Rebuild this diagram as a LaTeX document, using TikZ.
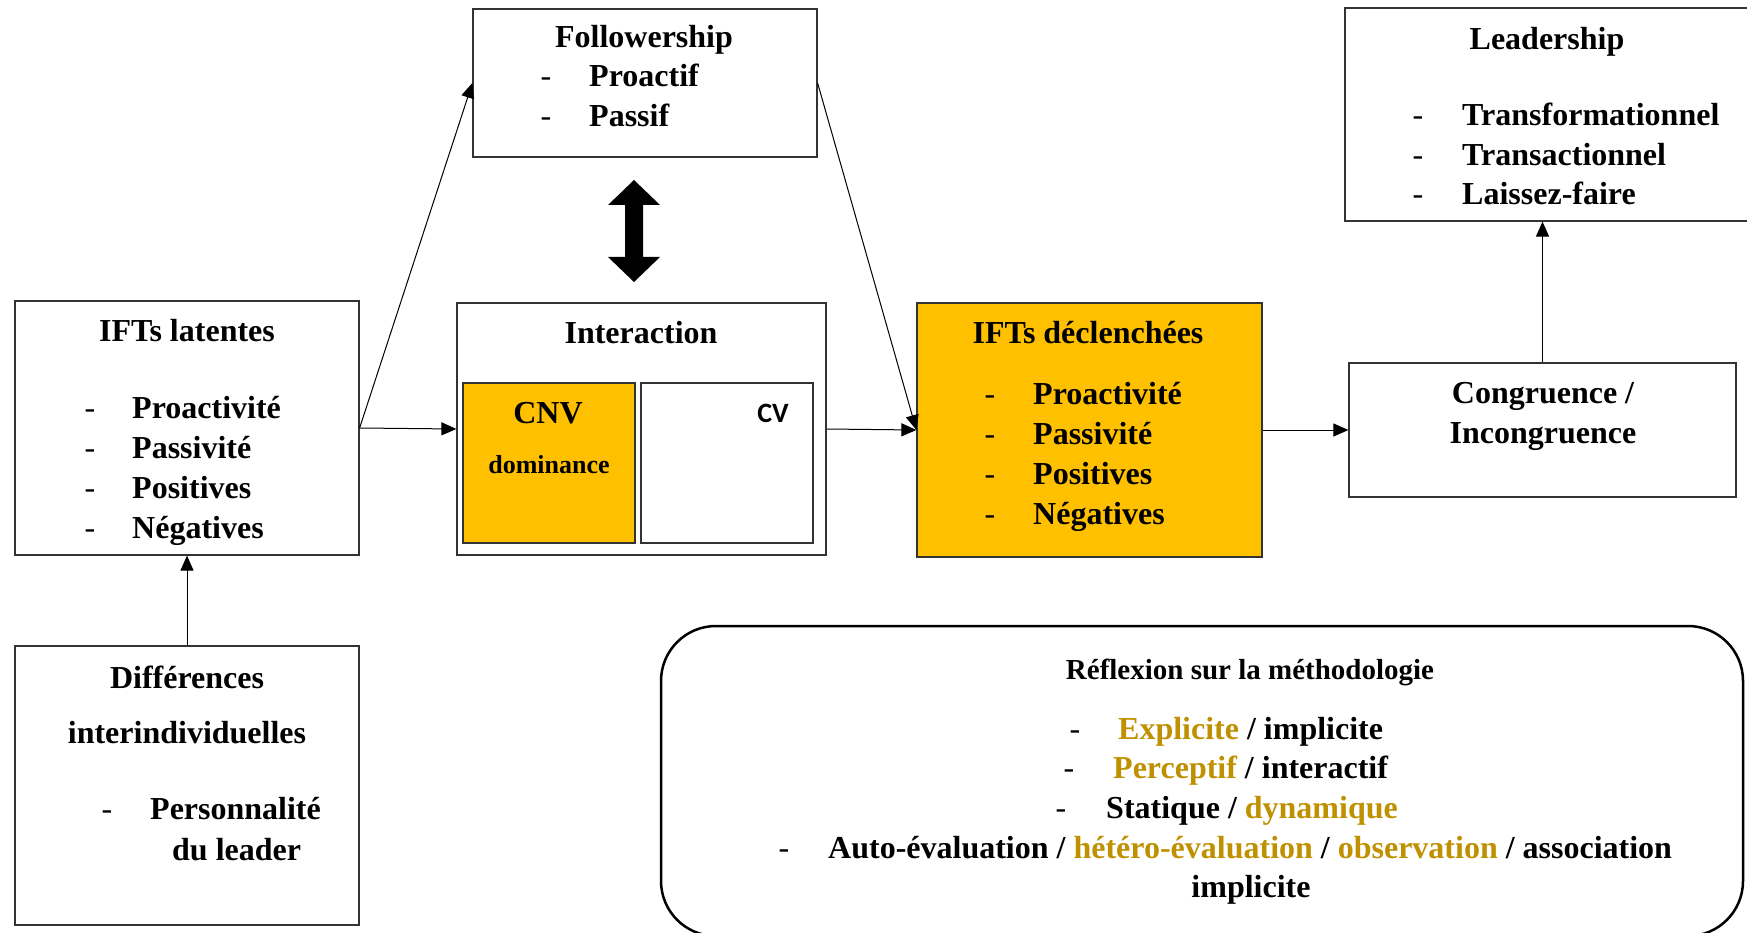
\documentclass[tikz,border=0pt]{standalone}
\usepackage{fontspec}
\setmainfont{Liberation Serif}
\newfontfamily\cvfont{Carlito}
\usetikzlibrary{arrows.meta}
\definecolor{boxgold}{HTML}{FFC000}
\definecolor{txtgold}{HTML}{BF9000}
\tikzset{
  box/.style={draw=black!80, line width=1.2pt, rectangle, inner sep=0pt},
  txt/.style={font=\fontsize{32}{36}\selectfont\bfseries, inner sep=0pt},
  dashmark/.style={font=\fontsize{32}{36}\selectfont, inner sep=0pt, anchor=base},
  conn/.style={line width=1pt, -{Triangle[length=15pt,width=13pt]}},
}
\begin{document}
\begin{tikzpicture}[x=1pt,y=-1pt]
\useasboundingbox (0,0) rectangle (1747,933);
% boxes
\node[box, minimum width=344pt, minimum height=148pt] (foll) at (645,83) {};
\node[box, minimum width=344pt, minimum height=254pt] (lat) at (187,428) {};
\node[box, minimum width=369pt, minimum height=252pt] (inter) at (641.5,429) {};
\node[box, fill=boxgold, minimum width=172pt, minimum height=160pt] (cnv) at (549,463) {};
\node[box, minimum width=172pt, minimum height=160pt] (cv) at (727,463) {};
\node[box, fill=boxgold, minimum width=345pt, minimum height=254pt] (decl) at (1089.5,430) {};
\node[box, minimum width=387pt, minimum height=134pt] (cong) at (1542.5,430) {};
\node[box, minimum width=407pt, minimum height=213pt] (lead) at (1548.5,114.5) {};
\node[box, minimum width=344pt, minimum height=279pt] (diff) at (187,785.5) {};
\node[box, draw=black, line width=2.5pt, rounded corners=55pt, minimum width=1082pt, minimum height=310pt] (meth) at (1202,781) {};
% connectors
\draw[conn] (lat.east) -- (inter.west);
\draw[conn] (lat.east) -- (foll.west);
\draw[conn] (inter.east) -- (decl.west);
\draw[conn] (foll.east) -- (decl.west);
\draw[conn] (decl.east) -- (cong.west);
\draw[conn] (cong.north) -- (cong.north |- lead.south);
\draw[conn] (diff.north) -- (lat.south);
% double block arrow
\fill (634,180) -- (660,205) -- (643,205) -- (643,257) -- (660,257) -- (634,282) -- (608,257) -- (625,257) -- (625,205) -- (608,205) -- cycle;
% Followership
\node[txt, anchor=base] (follT) at (644,48) {Followership};
\node[dashmark] (follD1) at (546,87) {-};
\node[txt, anchor=base west] (follI1) at (589,87) {Proactif};
\node[dashmark] (follD2) at (546,127) {-};
\node[txt, anchor=base west] (follI2) at (589,127) {Passif};
% IFTs latentes
\node[txt, anchor=base] (latT) at (187,341) {IFTs latentes};
\node[dashmark] (latD1) at (90,418) {-};
\node[txt, anchor=base west] (latI1) at (132,418) {Proactivité};
\node[dashmark] (latD2) at (90,458) {-};
\node[txt, anchor=base west] (latI2) at (132,458) {Passivité};
\node[dashmark] (latD3) at (90,498) {-};
\node[txt, anchor=base west] (latI3) at (132,498) {Positives};
\node[dashmark] (latD4) at (90,538) {-};
\node[txt, anchor=base west] (latI4) at (132,538) {Négatives};
% Interaction
\node[txt, anchor=base] (interT) at (641,343) {Interaction};
\node[txt, font=\fontsize{32}{36}\selectfont\bfseries, anchor=base] (cnvT) at (548,423) {CNV};
\node[txt, font=\fontsize{26}{30}\selectfont\bfseries, anchor=base] (cnvS) at (549,473) {dominance};
\node[txt, font=\fontsize{28}{30}\selectfont\cvfont\bfseries, anchor=base] (cvT) at (773,422) {CV};
% IFTs declenchees
\node[txt, anchor=base] (declT) at (1088,343) {IFTs déclenchées};
\node[dashmark] (declD1) at (990,404) {-};
\node[txt, anchor=base west] (declI1) at (1033,404) {Proactivité};
\node[dashmark] (declD2) at (990,444) {-};
\node[txt, anchor=base west] (declI2) at (1033,444) {Passivité};
\node[dashmark] (declD3) at (990,484) {-};
\node[txt, anchor=base west] (declI3) at (1033,484) {Positives};
\node[dashmark] (declD4) at (990,524) {-};
\node[txt, anchor=base west] (declI4) at (1033,524) {Négatives};
% Congruence
\node[txt, anchor=base] (congT1) at (1543,403) {Congruence /};
\node[txt, anchor=base] (congT2) at (1543,443) {Incongruence};
% Leadership
\node[txt, anchor=base] (leadT) at (1547,50) {Leadership};
\node[dashmark] (leadD1) at (1418,126) {-};
\node[txt, anchor=base west] (leadI1) at (1462,126) {Transformationnel};
\node[dashmark] (leadD2) at (1418,166) {-};
\node[txt, anchor=base west] (leadI2) at (1462,166) {Transactionnel};
\node[dashmark] (leadD3) at (1418,205) {-};
\node[txt, anchor=base west] (leadI3) at (1462,205) {Laissez-faire};
% Differences
\node[txt, anchor=base] (diffT1) at (187,688) {Différences};
\node[txt, anchor=base] (diffT2) at (187,743) {interindividuelles};
\node[dashmark] (diffD1) at (107,819) {-};
\node[txt, anchor=base west] (diffI1) at (150,819) {Personnalité};
\node[txt, anchor=base west] (diffI2) at (172,860) {du leader};
% Methodology
\node[txt, font=\fontsize{29}{32}\selectfont\bfseries, anchor=base] (methT) at (1250,679) {Réflexion sur la méthodologie};
\node[dashmark] (methD1) at (1075,739) {-};
\node[txt, anchor=base west] (methI1) at (1118,739) {\textcolor{txtgold}{Explicite} / implicite};
\node[dashmark] (methD2) at (1069,778) {-};
\node[txt, anchor=base west] (methI2) at (1113,778) {\textcolor{txtgold}{Perceptif} / interactif};
\node[dashmark] (methD3) at (1061,818) {-};
\node[txt, anchor=base west] (methI3) at (1106,818) {Statique / \textcolor{txtgold}{dynamique}};
\node[dashmark] (methD4) at (784,858) {-};
\node[txt, anchor=base west] (methI4) at (828,858) {Auto-évaluation / \textcolor{txtgold}{hétéro-évaluation} / \textcolor{txtgold}{observation} / association};
\node[txt, anchor=base] (methI5) at (1251,897) {implicite};
\end{tikzpicture}
\end{document}
